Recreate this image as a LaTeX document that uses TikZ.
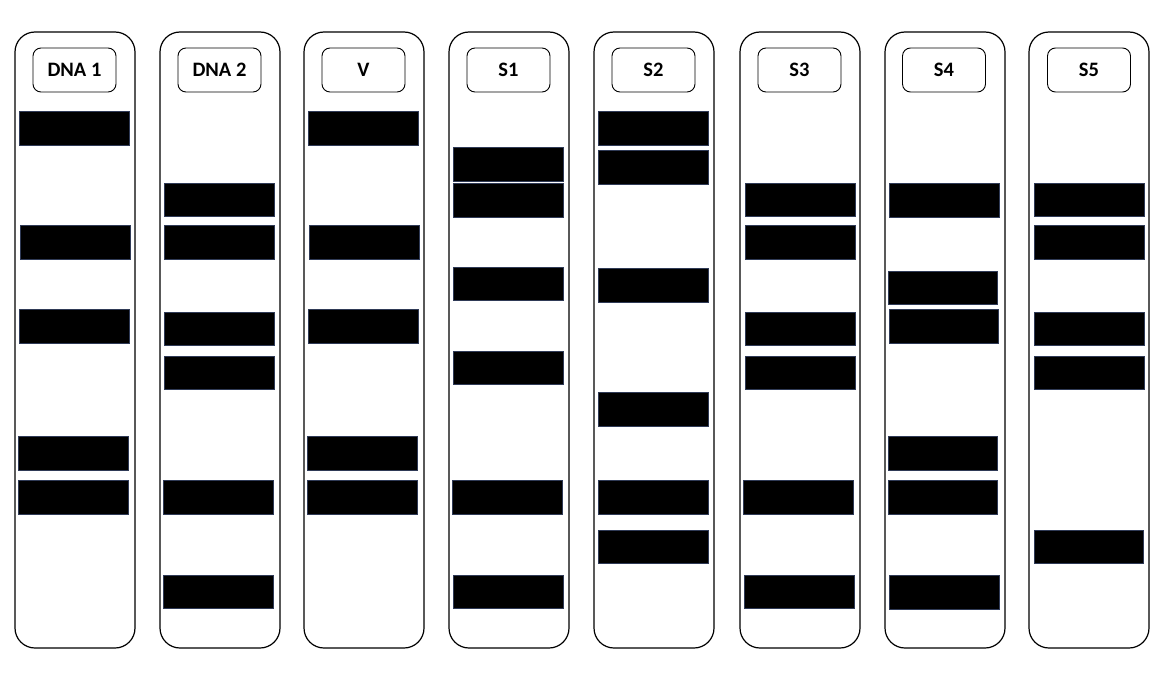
\documentclass[tikz,border=0pt]{standalone}
\usepackage{fontspec}
\setmainfont{Carlito}
\definecolor{bandedge}{HTML}{2F3A56}
\tikzset{
  lane/.style={draw=black, line width=1.2pt, rounded corners=20pt, fill=white},
  lbl/.style={draw=black, line width=0.9pt, rounded corners=8pt, minimum width=83pt, minimum height=44pt, inner sep=0pt, font=\fontsize{20.5}{22}\selectfont\bfseries},
  band/.style={fill=black, draw=bandedge, line width=0.8pt}
}
\newcommand\bnd[4]{\path[band] (#1,#3) rectangle (#2,#4);}
\begin{document}
\begin{tikzpicture}[x=1pt,y=-1pt]
\useasboundingbox (0,0) rectangle (1168,677);
% lanes
\foreach \n/\x in {1/15,2/160,3/304,4/449,5/594,6/740,7/885,8/1029}{
  \draw[lane] (\x,32) rectangle ++(120,616);
}
% labels
\node[lbl] (l1) at (74.5,70) {DNA 1};
\node[lbl] (l2) at (219.5,70) {DNA 2};
\node[lbl] (l3) at (363.5,70) {V};
\node[lbl] (l4) at (508.5,70) {S1};
\node[lbl] (l5) at (653.5,70) {S2};
\node[lbl] (l6) at (799.5,70) {S3};
\node[lbl] (l7) at (944,70) {S4};
\node[lbl] (l8) at (1089,70) {S5};
% DNA 1
\bnd{19}{129}{111}{145}
\bnd{20}{130}{225}{259}
\bnd{19}{129}{309}{343}
\bnd{18}{128}{436}{470}
\bnd{18}{128}{480}{514}
% DNA 2
\bnd{164}{274}{183}{216}
\bnd{164}{274}{225}{259}
\bnd{164}{274}{312}{345}
\bnd{164}{274}{356}{389}
\bnd{163}{273}{480}{514}
\bnd{163}{273}{575}{608}
% V
\bnd{308}{418}{111}{145}
\bnd{309}{419}{225}{259}
\bnd{308}{418}{309}{343}
\bnd{307}{417}{436}{470}
\bnd{307}{417}{480}{514}
% S1
\bnd{453}{563}{147}{181}
\bnd{453}{563}{183}{217}
\bnd{453}{563}{267}{300}
\bnd{453}{563}{351}{384}
\bnd{452}{562}{480}{514}
\bnd{453}{563}{575}{608}
% S2
\bnd{598}{708}{111}{145}
\bnd{598}{708}{150}{184}
\bnd{598}{708}{268}{302}
\bnd{598}{708}{392}{426}
\bnd{598}{708}{480}{514}
\bnd{598}{708}{530}{563}
% S3
\bnd{745}{855}{183}{216}
\bnd{745}{855}{225}{259}
\bnd{745}{855}{312}{345}
\bnd{745}{855}{356}{389}
\bnd{743}{853}{480}{514}
\bnd{744}{854}{575}{608}
% S4
\bnd{889}{999}{183}{217}
\bnd{888}{997}{271}{304}
\bnd{889}{998}{309}{343}
\bnd{888}{997}{436}{470}
\bnd{888}{997}{480}{514}
\bnd{889}{999}{575}{609}
% S5
\bnd{1034}{1144}{183}{216}
\bnd{1034}{1144}{225}{259}
\bnd{1034}{1144}{312}{345}
\bnd{1034}{1144}{356}{389}
\bnd{1034}{1143}{530}{563}
\end{tikzpicture}
\end{document}
